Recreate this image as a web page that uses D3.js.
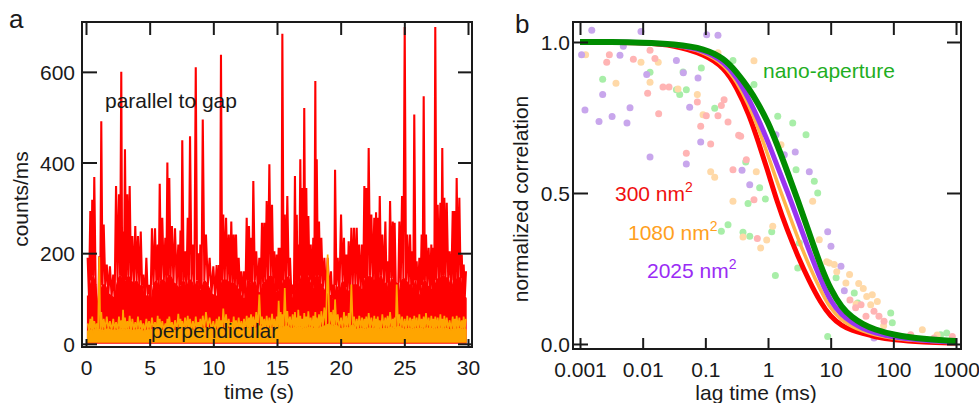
<!DOCTYPE html>
<html><head><meta charset="utf-8">
<script src="https://cdn.jsdelivr.net/npm/d3@7"></script>
<style>body{margin:0;background:#fff}svg text{font-family:"Liberation Sans",Arial,sans-serif}</style>
</head><body><svg id="c" width="979" height="403"></svg>
<script>
// ---------- panel a : intensity traces ----------
const timeS=[0.13,0.34,0.49,0.65,0.86,1.04,1.20,1.39,1.63,1.88,2.14,2.36,2.59,2.77,2.91,3.06,3.24,3.43,3.64,3.87,4.08,4.30,4.50,4.74,4.95,5.18,5.42,5.63,5.79,5.99,6.23,6.39,6.54,6.75,6.99,7.25,7.42,7.56,7.78,7.99,8.17,8.40,8.62,8.82,8.98,9.17,9.42,9.71,10.00,10.26,10.45,10.60,10.78,11.00,11.21,11.41,11.60,11.78,11.99,12.20,12.41,12.62,12.80,12.96,13.14,13.37,13.61,13.82,14.00,14.19,14.40,14.61,14.79,14.98,15.13,15.29,15.42,15.61,15.81,16.02,16.23,16.41,16.55,16.67,16.83,16.99,17.14,17.30,17.46,17.65,17.85,18.01,18.12,18.30,18.48,18.72,18.98,19.24,19.42,19.56,19.77,20.03,20.26,20.44,20.63,20.84,21.05,21.26,21.46,21.68,21.86,22.01,22.20,22.41,22.64,22.78,22.91,23.07,23.27,23.51,23.69,23.88,24.09,24.24,24.40,24.61,24.82,25.03,25.23,25.45,25.63,25.78,25.97,26.18,26.36,26.52,26.70,26.91,27.12,27.28,27.43,27.62,27.83,27.98,28.14,28.33,28.56,28.80,28.96,29.11,29.32,29.51,29.66,29.84];
const parallelHi=[190,293,318,368,65,193,491,263,175,171,153,348,330,600,248,429,330,348,238,260,238,248,153,190,130,255,255,219,353,278,234,400,366,260,255,219,250,449,204,278,458,219,610,200,219,495,241,190,171,174,174,638,285,278,241,270,241,241,190,160,160,278,260,234,359,204,190,267,267,315,396,307,204,197,212,212,684,285,326,190,131,370,285,219,407,344,520,344,282,219,234,580,407,270,234,190,190,160,131,384,190,285,234,197,226,256,256,256,219,219,348,344,432,285,278,290,278,326,241,270,182,315,270,267,131,270,326,699,241,241,204,506,182,190,241,546,241,212,219,212,699,307,311,432,322,311,204,293,293,366,322,197,175,160];
const parallelLo=[105,140,150,130,45,110,130,130,110,105,100,140,150,140,130,140,150,140,130,140,125,130,95,110,80,130,140,120,140,140,130,150,150,135,130,120,130,140,120,140,140,120,140,115,120,140,130,110,105,105,105,140,140,140,130,135,130,125,110,100,100,140,135,125,140,115,110,135,135,145,150,145,115,110,120,120,140,140,150,110,85,140,140,120,150,150,150,150,140,120,125,150,150,135,125,110,110,100,85,130,110,140,125,110,120,130,130,130,120,120,145,145,150,140,140,140,140,150,130,135,105,145,135,135,85,135,145,140,130,130,115,140,105,110,130,140,130,120,120,120,140,145,145,150,145,145,115,140,140,145,145,110,105,100];
const perpHi=[45,55,60,50,45,192,70,55,60,50,55,48,60,52,75,58,50,62,55,48,60,52,45,55,50,58,48,62,55,50,45,55,60,48,52,66,55,50,58,62,55,50,60,48,55,62,70,58,50,55,60,52,78,65,55,48,60,52,58,50,55,62,58,65,60,70,109,60,55,62,58,66,55,60,95,70,65,123,72,60,65,70,58,75,62,55,68,60,72,58,62,70,58,65,72,80,197,70,75,98,65,58,70,62,68,131,60,55,62,58,55,60,68,58,62,55,60,52,65,58,62,70,55,58,131,65,60,55,62,58,55,62,58,65,55,60,68,58,62,55,60,58,65,55,62,58,52,60,55,62,58,52,60,55];
const perpLo=[28,31,26,34,30,32,28,31,33,29,31,28,34,30,32,29,33,28,31,30,32,29,28,31,30,33,28,32,30,29,28,31,33,29,30,34,31,28,32,33,30,28,33,29,31,34,36,32,29,31,33,30,36,34,31,28,33,30,32,29,31,34,32,35,33,36,41,33,31,34,32,36,31,33,38,36,34,41,36,33,35,36,32,38,34,31,36,33,37,32,34,37,32,35,38,40,44,37,39,41,35,32,37,34,36,42,33,31,34,32,31,33,36,32,34,31,33,30,35,32,34,37,31,32,40,35,33,31,34,32,31,34,32,35,31,33,36,32,34,31,33,32,35,31,34,32,30,33,31,34,32,30,33,31];
const timeTicks=[0,5,10,15,20,25,30];
const countTicks=[0,200,400,600];

// ---------- panel b : correlation ----------
const lagGrid=[0.001,0.00316,0.01,0.0316,0.1,0.2,0.316,0.5,0.7,1,1.4,2,3,4.5,7,10,15,22,32,50,100,300,1000];
const fit300=[1,0.9995,0.997,0.99,0.958,0.915,0.85,0.76,0.67,0.57,0.47,0.38,0.29,0.21,0.135,0.09,0.06,0.045,0.035,0.024,0.013,0.006,0.003];
const fit1080=[1,1,0.998,0.991,0.966,0.925,0.87,0.79,0.715,0.625,0.535,0.45,0.35,0.26,0.175,0.115,0.078,0.057,0.043,0.03,0.018,0.009,0.005];
const fit2025=[1,1,0.998,0.992,0.972,0.933,0.885,0.81,0.745,0.67,0.59,0.51,0.41,0.31,0.21,0.14,0.095,0.07,0.052,0.037,0.022,0.011,0.006];
const fitNano=[1,1,0.998,0.993,0.978,0.945,0.9,0.845,0.795,0.735,0.66,0.575,0.475,0.37,0.255,0.18,0.12,0.088,0.066,0.048,0.03,0.016,0.01];

const lag300=[0.00294,0.0131,0.0071,0.00267,0.0157,0.0211,0.0263,0.012,0.018,0.199,0.0745,0.18,0.1035,0.159,0.23,0.0843,0.34,0.366,0.1216,0.0497,0.451,0.276,0.597,0.675,30.5,36.6,49.1,59,71,189,446,873,20.3,25];
const corr300=[0.958,0.973,0.943,0.933,0.945,0.851,0.851,0.83,0.762,0.809,0.801,0.79,0.756,0.756,0.735,0.721,0.691,0.688,0.662,0.632,0.61,0.577,0.478,0.349,0.13,0.092,0.108,0.092,0.075,0.031,0.02,0.025,0.146,0.12];
const lag1080=[0.00123,0.0094,0.0177,0.00375,0.0131,0.159,0.597,0.0366,0.0745,0.0918,0.1216,0.141,0.65,0.276,0.399,0.764,0.953,1.61,5.16,1.19,6.58,9.5,11.4,17.5,8.65,25.4,33.1,37.6,46.1,55.5,43.5,290,12.5,20,28,70,500];
const corr1080=[0.958,0.933,0.933,0.863,0.867,0.964,0.938,0.844,0.826,0.759,0.57,0.552,0.57,0.473,0.354,0.318,0.344,0.66,0.473,0.39,0.345,0.268,0.263,0.202,0.272,0.132,0.184,0.157,0.163,0.141,0.13,0.047,0.239,0.23,0.2,0.06,0.03];
const lag2025=[0.00154,0.0094,0.00491,0.00106,0.00434,0.0116,0.0023,0.00628,0.0012,0.00325,0.00201,0.00562,0.0131,0.105,0.159,0.0345,0.0764,0.0562,0.0843,0.0497,0.385,0.511,1.34,1.82,2.72,4.56,8.96,10.1,14.6,16.5,49.1,85.3,0.0446];
const corr2025=[1.039,1.035,0.986,0.958,0.956,0.892,0.826,0.782,0.775,0.753,0.737,0.732,0.619,1.024,1.022,0.939,0.881,0.784,0.669,0.596,0.575,0.527,0.693,0.627,0.636,0.57,0.372,0.324,0.257,0.176,0.02,0.031,0.898];
const lagNano=[0.0131,0.0023,0.276,0.0863,0.0441,0.597,0.0345,0.0497,0.039,0.141,0.441,0.736,0.48,0.906,0.18,0.23,0.399,0.511,1.146,1.43,2.48,4.04,2.8,5.48,6.21,2.98,1.31,12.2,23.8,27,8.96,90.8,96.2,569,710,3.16];
const corrNano=[0.9,0.877,0.939,0.914,0.901,0.859,0.842,0.842,0.826,0.781,0.603,0.517,0.465,0.48,0.373,0.395,0.37,0.357,0.372,0.754,0.732,0.693,0.577,0.539,0.5,0.252,0.227,0.219,0.169,0.136,0.025,0.103,0.07,0.031,0.036,0.334];
const lagTicks=[0.001,0.01,0.1,1,10,100,1000];
const corrTicks=[0,0.5,1];

const svg=d3.select("#c");
const FS=21, ink="#1a1a1a";

function frameAxes(g,x,y,xt,yt,xfmt,yfmt,o){
  const [x0,x1]=x.range(), [y0,y1]=y.range();
  const mk=(ax,tr)=>{const a=g.append("g").attr("transform",tr).call(ax);a.select(".domain").remove();
    a.selectAll("line").attr("stroke",ink).attr("stroke-width",2);
    a.selectAll("text").attr("fill",ink).style("font-size",FS+"px");return a;};
  mk(d3.axisBottom(x).tickValues(xt).tickFormat(xfmt).tickSize(-o.bt).tickPadding(o.bp),`translate(0,${y0})`);
  mk(d3.axisTop(x).tickValues(xt).tickFormat("").tickSize(-13),`translate(0,${y1})`);
  mk(d3.axisLeft(y).tickValues(yt).tickFormat(yfmt).tickSize(-15).tickPadding(o.lp),`translate(${x0},0)`).selectAll("text").attr("dy","0.36em");
  mk(d3.axisRight(y).tickValues(yt).tickFormat("").tickSize(-14),`translate(${x1},0)`);
  g.append("rect").attr("x",x0).attr("y",y1).attr("width",x1-x0).attr("height",y0-y1)
    .attr("fill","none").attr("stroke",ink).attr("stroke-width",2);
}

// ----- panel a -----
const xa=d3.scaleLinear().domain([-0.314,30.314]).range([82,472]);
const ya=d3.scaleLinear().domain([-7,710]).range([347,22]);
const ga=svg.append("g");
svg.append("clipPath").attr("id","ca").append("rect").attr("x",83).attr("y",23).attr("width",388).attr("height",323);
const pa=ga.append("g").attr("clip-path","url(#ca)");
function trace(hi,lo,base,color,w){
  const pts=[], core=[[timeS[0],lo[0]]];
  timeS.forEach((t,i)=>{pts.push([t,hi[i]]);
    if(i<timeS.length-1){const m=[(t+timeS[i+1])/2,lo[i]];pts.push(m);core.push(m);}});
  core.push([timeS[timeS.length-1],lo[lo.length-1]]);
  pa.append("path").datum(core).attr("fill",color).attr("stroke",color).attr("stroke-width",1.5)
    .attr("d",d3.area().x(d=>xa(d[0])).y0(ya(base)).y1(d=>ya(d[1])));
  pa.append("path").datum(pts).attr("fill","none").attr("stroke",color).attr("stroke-width",w)
    .attr("stroke-linejoin","miter").attr("stroke-miterlimit",2)
    .attr("d",d3.line().x(d=>xa(d[0])).y(d=>ya(d[1])));
}
trace(parallelHi,parallelLo,2,"#ff0000",2.1);
trace(perpHi,perpLo,4,"#ffa500",1.7);
frameAxes(ga,xa,ya,timeTicks,countTicks,d3.format("d"),d3.format("d"),{bt:8,bp:13,lp:7});
ga.append("text").attr("x",105).attr("y",108).attr("fill",ink).style("font-size",FS+"px").text("parallel to gap");
ga.append("text").attr("x",151).attr("y",338).attr("fill",ink).style("font-size",FS+"px").text("perpendicular");
ga.append("text").attr("x",259).attr("y",399).attr("text-anchor","middle").attr("fill",ink).style("font-size",FS+"px").text("time (s)");
ga.append("text").attr("transform","translate(28,199) rotate(-90)").attr("text-anchor","middle").attr("fill",ink).style("font-size",FS+"px").text("counts/ms");
ga.append("text").attr("x",9).attr("y",28).attr("fill",ink).style("font-size","26px").text("a");

// ----- panel b -----
const xb=d3.scaleLog().domain([0.000773,1201]).range([573,961]);
const yb=d3.scaleLinear().domain([-0.0166,1.0662]).range([349,22]);
const gb=svg.append("g");
svg.append("clipPath").attr("id","cb").append("rect").attr("x",574).attr("y",23).attr("width",386).attr("height",325);
const pb=gb.append("g").attr("clip-path","url(#cb)");
const dotSets=[[lagNano,corrNano,"#a8eea8"],[lag1080,corr1080,"#ffd9a8"],[lag300,corr300,"#ffb4b4"],[lag2025,corr2025,"#c8a6ec"]];
dotSets.forEach(([L,C,col])=>{
  pb.append("g").selectAll("circle").data(L.map((l,i)=>[l,C[i]])).join("circle")
    .attr("cx",d=>xb(d[0])).attr("cy",d=>yb(d[1])).attr("r",3.5).attr("fill",col);
});
const fits=[[fit300,"#ff0000",5],[fit1080,"#ffb54a",3.5],[fit2025,"#9933f0",5],[fitNano,"#008c00",6]];
const ln=d3.line().x((d,i)=>xb(lagGrid[i])).y(d=>yb(d)).curve(d3.curveBasis);
fits.forEach(([v,col,w])=>pb.append("path").datum(v).attr("fill","none").attr("stroke",col).attr("stroke-width",w).attr("d",ln));
const lagFmt=d=>({0.001:"0.001",0.01:"0.01",0.1:"0.1",1:"1",10:"10",100:"100",1000:"1000"})[d];
frameAxes(gb,xb,yb,lagTicks,corrTicks,lagFmt,d3.format(".1f"),{bt:11,bp:13,lp:3});
function lab(x,y,t,col){const e=gb.append("text").attr("x",x).attr("y",y).attr("fill",col).style("font-size",FS+"px").text(t);
  e.append("tspan").attr("dy",-9).style("font-size","14px").text("2");}
lab(615,201,"300 nm","#f01010");
lab(628,240,"1080 nm","#ffa020");
lab(647,278,"2025 nm","#9a2cf5");
gb.append("text").attr("x",763).attr("y",78).attr("fill","#1fae1f").style("font-size",FS+"px").text("nano-aperture");
gb.append("text").attr("x",756).attr("y",400).attr("text-anchor","middle").attr("fill",ink).style("font-size",FS+"px").text("lag time (ms)");
gb.append("text").attr("transform","translate(528,199) rotate(-90)").attr("text-anchor","middle").attr("fill",ink).style("font-size",FS+"px").text("normalized correlation");
gb.append("text").attr("x",515).attr("y",33).attr("fill",ink).style("font-size","26px").text("b");
</script></body></html>
